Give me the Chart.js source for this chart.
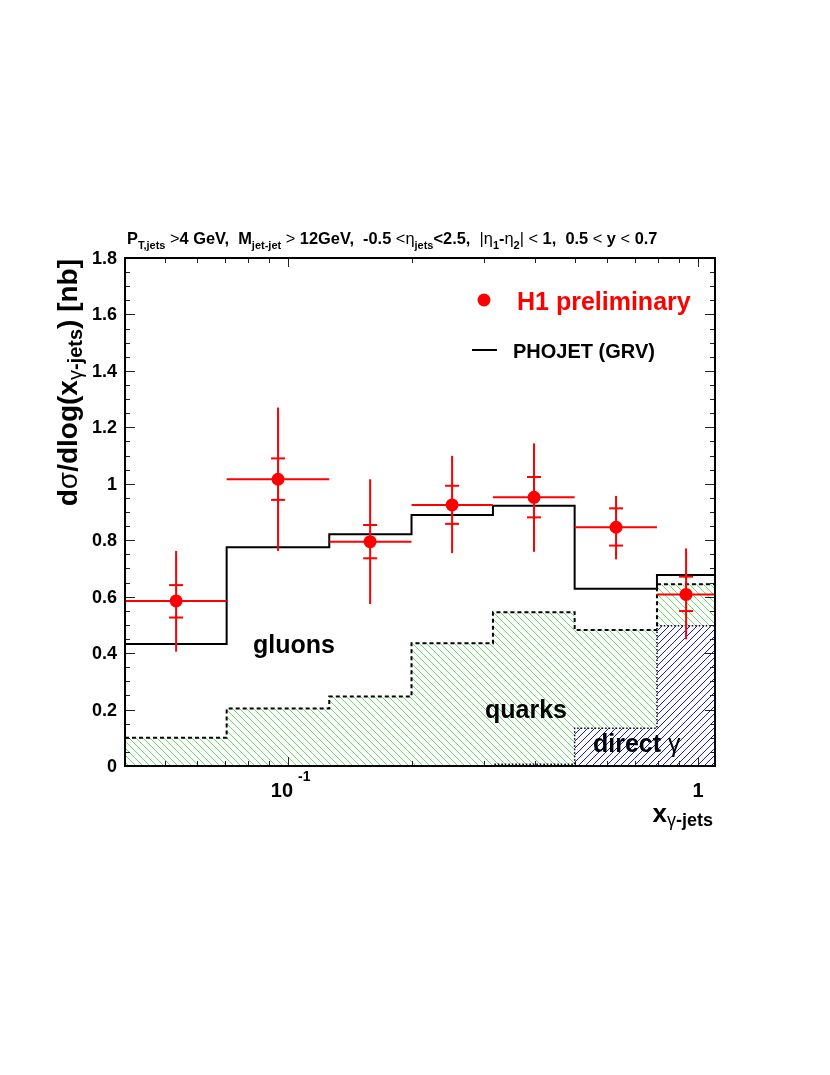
<!DOCTYPE html>
<html>
<head>
<meta charset="utf-8">
<script src="https://cdn.jsdelivr.net/npm/chart.js@4.4.1/dist/chart.umd.min.js"></script>
<style>
  body { margin: 0; background: #fff; }
  #wrap { width: 830px; height: 1075px; }
</style>
</head>
<body>
<div id="wrap"><canvas id="chart" width="830" height="1075"></canvas></div>
<script>
// bin edges in x_gamma-jets (log axis)
const binEdges = [0.04, 0.0708, 0.126, 0.2, 0.316, 0.5, 0.794, 1.1];

// PHOJET (GRV) total, quarks (incl. direct) and direct gamma contributions
const phojet = [0.432, 0.775, 0.821, 0.889, 0.922, 0.628, 0.677];
const quarksTotal = [0.100, 0.204, 0.246, 0.435, 0.545, 0.482, 0.644];
const directGamma = [0, 0, 0, 0, 0.006, 0.134, 0.497];

// H1 preliminary data points
const h1X = [0.0533, 0.0945, 0.1585, 0.2512, 0.398, 0.631, 0.935];
const h1Y = [0.585, 1.016, 0.795, 0.925, 0.952, 0.846, 0.608];
const statUp = [0.641, 1.090, 0.854, 0.993, 1.024, 0.913, 0.671];
const statDn = [0.526, 0.943, 0.736, 0.858, 0.881, 0.781, 0.549];
const totUp = [0.762, 1.270, 1.016, 1.099, 1.143, 0.957, 0.771];
const totDn = [0.405, 0.762, 0.574, 0.754, 0.759, 0.732, 0.449];

// axis ticks
const yMajor = [0, 0.2, 0.4, 0.6, 0.8, 1, 1.2, 1.4, 1.6, 1.8];
const yLabels = ['0', '0.2', '0.4', '0.6', '0.8', '1', '1.2', '1.4', '1.6', '1.8'];
const xMinor = [0.05, 0.06, 0.07, 0.08, 0.09, 0.2, 0.3, 0.4, 0.5, 0.6, 0.7, 0.8, 0.9];
const xMajor = [0.1, 1];

const FONT = '"Liberation Sans", Arial, Helvetica, sans-serif';

function steps(vals) {
    let pts = vals.map((v, i) => ({x: binEdges[i], y: v}))
    pts.push({x: binEdges[binEdges.length - 1], y: vals[vals.length - 1]})
    return pts
}

// diagonal hatch pattern, back = "\" direction
function hatch(color, back) {
    const s = 7
    const c = document.createElement('canvas')
    c.width = s; c.height = s
    const g = c.getContext('2d')
    g.fillStyle = '#fff'
    g.fillRect(0, 0, s, s)
    g.strokeStyle = color
    g.lineWidth = 1
    g.beginPath()
    for (let o = -s; o <= s; o += s) {
        if (back) { g.moveTo(o, 0); g.lineTo(o + s, s) }
        else { g.moveTo(o, s); g.lineTo(o + s, 0) }
    }
    g.stroke()
    return g.createPattern(c, 'repeat')
}

function fontFor(p, size) {
    const s = p.s ? Math.round(size * (p.k || 0.7)) : size
    return (p.w || 'bold') + ' ' + s + 'px ' + FONT
}

// draws text with sub/superscripts, parts: {t, s:'sub'|'sup', w, dy, k}
function drawRich(ctx, x, y, parts, size, align) {
    let w = 0
    parts.forEach(p => { ctx.font = fontFor(p, size); w += ctx.measureText(p.t).width })
    let cx = align === 'right' ? x - w : (align === 'center' ? x - w / 2 : x)
    ctx.textAlign = 'left'
    ctx.textBaseline = 'alphabetic'
    parts.forEach(p => {
        ctx.font = fontFor(p, size)
        let dy = p.dy !== undefined ? p.dy : (p.s === 'sub' ? size * 0.3 : (p.s === 'sup' ? -size * 0.45 : 0))
        ctx.fillText(p.t, cx, y + dy)
        cx += ctx.measureText(p.t).width
    })
}

function line(ctx, x1, y1, x2, y2) {
    ctx.beginPath()
    ctx.moveTo(x1, y1)
    ctx.lineTo(x2, y2)
    ctx.stroke()
}

const decorations = {
    id: 'decorations',
    beforeDatasetDraw(chart, args) {
        if (args.index !== 0) return
        const ctx = chart.ctx, xs = chart.scales.x, ys = chart.scales.y
        ctx.save()
        ctx.strokeStyle = '#ff0000'
        ctx.lineWidth = 2
        h1X.forEach((xv, i) => {
            const px = xs.getPixelForValue(xv)
            const py = ys.getPixelForValue(h1Y[i])
            line(ctx, xs.getPixelForValue(binEdges[i]), py, xs.getPixelForValue(binEdges[i + 1]), py)
            line(ctx, px, ys.getPixelForValue(totDn[i]), px, ys.getPixelForValue(totUp[i]))
            ;[statUp[i], statDn[i]].forEach(v => {
                const cy = ys.getPixelForValue(v)
                line(ctx, px - 7, cy, px + 7, cy)
            })
        })
        ctx.restore()
    },
    afterDraw(chart) {
        const ctx = chart.ctx, xs = chart.scales.x, ys = chart.scales.y
        const a = chart.chartArea
        ctx.save()

        // ticks
        ctx.strokeStyle = '#222'
        ctx.lineWidth = 1
        for (let v = 0; v <= 1.8001; v += 0.05) {
            const y = Math.round(ys.getPixelForValue(v)) + 0.5
            const major = Math.abs(v / 0.2 - Math.round(v / 0.2)) < 0.01
            const len = major ? 10 : 5
            line(ctx, a.left, y, a.left + len, y)
            line(ctx, a.right - len, y, a.right, y)
        }
        xMinor.concat(xMajor).forEach(v => {
            const x = Math.round(xs.getPixelForValue(v)) + 0.5
            const len = xMajor.includes(v) ? 9 : 5
            line(ctx, x, a.bottom, x, a.bottom - len)
            line(ctx, x, a.top, x, a.top + len)
        })

        // frame
        ctx.strokeStyle = '#000'
        ctx.lineWidth = 2
        ctx.strokeRect(a.left, a.top, a.right - a.left, a.bottom - a.top)

        // y tick labels
        ctx.fillStyle = '#000'
        ctx.font = 'bold 18px ' + FONT
        ctx.textAlign = 'right'
        ctx.textBaseline = 'middle'
        yMajor.forEach((v, i) => ctx.fillText(yLabels[i], a.left - 8, ys.getPixelForValue(v) + 1))

        // x tick labels
        const x01 = xs.getPixelForValue(0.1)
        ctx.textBaseline = 'alphabetic'
        ctx.font = 'bold 20px ' + FONT
        ctx.textAlign = 'right'
        ctx.fillText('10', x01 + 5, 797)
        ctx.font = 'bold 14px ' + FONT
        ctx.textAlign = 'left'
        ctx.fillText('-1', x01 + 10, 781)
        ctx.font = 'bold 20px ' + FONT
        ctx.textAlign = 'center'
        ctx.fillText('1', xs.getPixelForValue(1), 797)

        // axis titles
        drawRich(ctx, 713, 822, [{t: 'x'}, {t: 'γ', s: 'sub', w: 'normal', dy: 4},
            {t: '-jets', s: 'sub', dy: 4}], 26, 'right')
        ctx.save()
        ctx.translate(77, 259)
        ctx.rotate(-Math.PI / 2)
        drawRich(ctx, 0, 0, [{t: 'd'}, {t: 'σ', w: 'normal'}, {t: '/dlog(x'}, {t: 'γ', s: 'sub', w: 'normal', dy: 5},
            {t: '-jets', s: 'sub', dy: 5}, {t: ') [nb]'}], 28, 'right')
        ctx.restore()

        // header
        drawRich(ctx, 127, 244, [
            {t: 'P'}, {t: 'T,jets', s: 'sub'}, {t: ' '}, {t: '>', w: 'normal'}, {t: '4 GeV,  M'},
            {t: 'jet-jet', s: 'sub'}, {t: ' '}, {t: '>', w: 'normal'}, {t: ' 12GeV,  -0.5 '},
            {t: '<η', w: 'normal'}, {t: 'jets', s: 'sub'}, {t: '<2.5,  '}, {t: '|η', w: 'normal'},
            {t: '1', s: 'sub'}, {t: '-'}, {t: 'η', w: 'normal'}, {t: '2', s: 'sub'}, {t: '| < ', w: 'normal'},
            {t: '1,  0.5 '}, {t: '<', w: 'normal'}, {t: ' y '}, {t: '<', w: 'normal'}, {t: ' 0.7'}
        ], 16.4, 'left')

        // legend
        ctx.fillStyle = '#ff0000'
        ctx.beginPath()
        ctx.arc(484, 300, 6.5, 0, Math.PI * 2)
        ctx.fill()
        ctx.font = 'bold 25px ' + FONT
        ctx.textAlign = 'left'
        ctx.fillText('H1 preliminary', 517, 310)
        ctx.strokeStyle = '#000'
        ctx.lineWidth = 2
        line(ctx, 472, 350, 497, 350)
        ctx.fillStyle = '#000'
        ctx.font = 'bold 20px ' + FONT
        ctx.fillText('PHOJET (GRV)', 513, 358)

        // component labels
        ctx.font = 'bold 25px ' + FONT
        ctx.fillText('gluons', 253, 653)
        ctx.fillText('quarks', 485, 718)
        drawRich(ctx, 593, 752, [{t: 'direct '}, {t: 'γ', w: 'normal'}], 25, 'left')

        ctx.restore()
    }
}

new Chart(document.getElementById('chart'), {
    type: 'line',
    data: {
        datasets: [
            {
                label: 'H1 preliminary',
                data: h1X.map((x, i) => ({x: x, y: h1Y[i]})),
                showLine: false,
                pointRadius: 6.5,
                pointBackgroundColor: '#ff0000',
                pointBorderColor: '#ff0000',
                pointBorderWidth: 0
            },
            {
                label: 'PHOJET (GRV)',
                data: steps(phojet),
                stepped: true,
                borderColor: '#000',
                borderWidth: 2,
                pointRadius: 0,
                fill: false
            },
            {
                label: 'direct',
                data: steps(directGamma),
                stepped: true,
                borderColor: '#000',
                borderWidth: 1.5,
                borderDash: [1.5, 2],
                pointRadius: 0,
                fill: 'origin',
                backgroundColor: hatch('rgb(20,20,255)', false)
            },
            {
                label: 'quarks',
                data: steps(quarksTotal),
                stepped: true,
                borderColor: '#000',
                borderWidth: 2,
                borderDash: [4, 3],
                pointRadius: 0,
                fill: '-1',
                backgroundColor: hatch('rgb(100,225,100)', true)
            }
        ]
    },
    options: {
        responsive: false,
        animation: false,
        devicePixelRatio: 1,
        layout: { padding: { left: 125, right: 115, top: 258, bottom: 309 } },
        plugins: { legend: { display: false }, tooltip: { enabled: false } },
        scales: {
            x: {
                type: 'logarithmic', min: 0.04, max: 1.1,
                ticks: { display: false }, grid: { display: false }, border: { display: false },
                afterFit: s => { s.height = 0 }
            },
            y: {
                min: 0, max: 1.8,
                ticks: { display: false }, grid: { display: false }, border: { display: false },
                afterFit: s => { s.width = 0 }
            }
        }
    },
    plugins: [decorations]
})
</script>
</body>
</html>
